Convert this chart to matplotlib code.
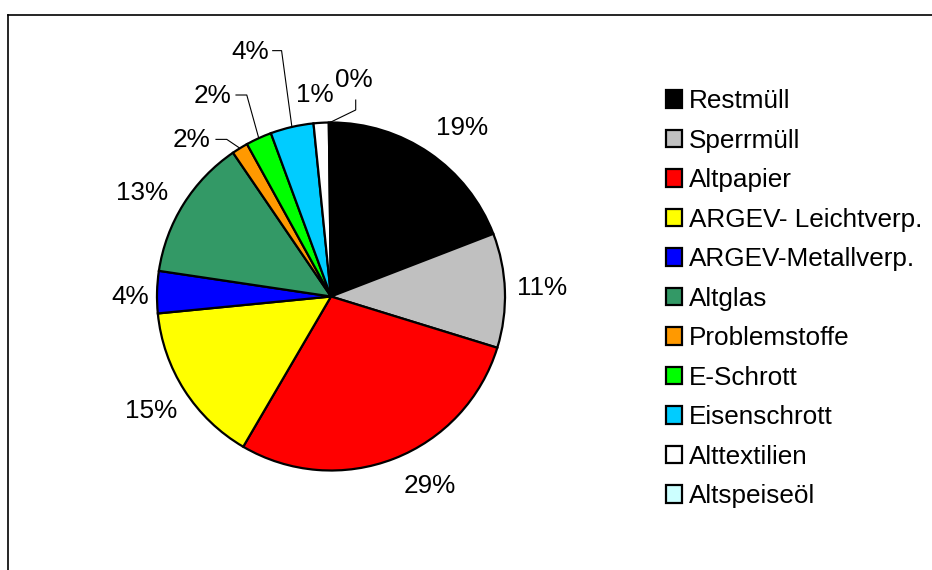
import matplotlib
matplotlib.use("Agg")
import matplotlib.pyplot as plt
from matplotlib.lines import Line2D
import numpy as np

plt.rcParams['font.family'] = ['Liberation Sans', 'DejaVu Sans']

# ---- data ----
categories = ["Restmüll", "Sperrmüll", "Altpapier", "ARGEV- Leichtverp.",
              "ARGEV-Metallverp.", "Altglas", "Problemstoffe", "E-Schrott",
              "Eisenschrott", "Alttextilien", "Altspeiseöl"]
values = [19.1, 10.6, 28.6, 15.0, 3.9, 13.1, 1.5, 2.4, 4.0, 1.4, 0.2]
colors = ["#000000", "#C0C0C0", "#FF0000", "#FFFF00", "#0000FF", "#339966",
          "#FF9900", "#00FF00", "#00CCFF", "#FFFFFF", "#CCFFFF"]

# ---- layout (label positions in pie-radius units, relative to centre) ----
label_pos = [(0.753, 0.968), (1.213, 0.049), (0.569, -1.089), (-1.034, -0.658),
             (-1.155, 0.0), (-1.086, 0.595), (-0.799, 0.899), (-0.680, 1.152),
             (-0.466, 1.407), (-0.092, 1.158), (0.132, 1.244)]
# leader lines: (start point, elbow point) ; end is on the wedge rim
leaders = {6: [(-0.661, 0.903), (-0.599, 0.903)],
           7: [(-0.546, 1.158), (-0.484, 1.158)],
           8: [(-0.335, 1.413), (-0.284, 1.413)],
           10: [(0.142, 1.129), (0.142, 1.072)]}

W, H = 932, 570
fig = plt.figure(figsize=(W / 100, H / 100), dpi=100)

cx, cy, r = 331, 296.5, 174
ax = fig.add_axes([(cx - r) / W, (H - cy - r) / H, 2 * r / W, 2 * r / H])

wedges, _ = ax.pie(values, colors=colors, startangle=90, counterclock=False,
                   radius=1.0,
                   wedgeprops=dict(edgecolor="black", linewidth=1.6))
ax.set_xlim(-1, 1)
ax.set_ylim(-1, 1)
ax.set_aspect("equal")
ax.axis("off")

total = sum(values)
cum = 0.0
for i, v in enumerate(values):
    pct = v / total * 100
    mid = (cum + v / 2) / total * 2 * np.pi
    cum += v
    x, y = label_pos[i]
    ax.text(x, y, f"{pct:.0f}%", ha="center", va="center", fontsize=18.8,
            color="#000000", clip_on=False)
    if i in leaders:
        rim = (np.sin(mid) * 1.0, np.cos(mid) * 1.0)
        pts = leaders[i] + [rim]
        ax.add_line(Line2D([p[0] for p in pts], [p[1] for p in pts],
                           color="black", lw=0.8, clip_on=False))

leg = fig.legend(wedges, categories, loc="upper left",
                 bbox_to_anchor=(665.5 / W, 1 - 89 / H),
                 bbox_transform=fig.transFigure, frameon=False,
                 fontsize=18.8, handlelength=0.65, handleheight=0.65,
                 handletextpad=0.25, labelspacing=0.595, borderpad=0,
                 borderaxespad=0)

# outer frame (chart area border extends beyond the canvas)
fig.add_artist(Line2D([7.5 / W, 7.5 / W], [0, 1 - 14.5 / H], color="black",
                      lw=1.2, transform=fig.transFigure))
fig.add_artist(Line2D([7.5 / W, 1], [1 - 14.5 / H, 1 - 14.5 / H], color="black",
                      lw=1.2, transform=fig.transFigure))

fig.savefig("out.png", dpi=100, facecolor="white")
